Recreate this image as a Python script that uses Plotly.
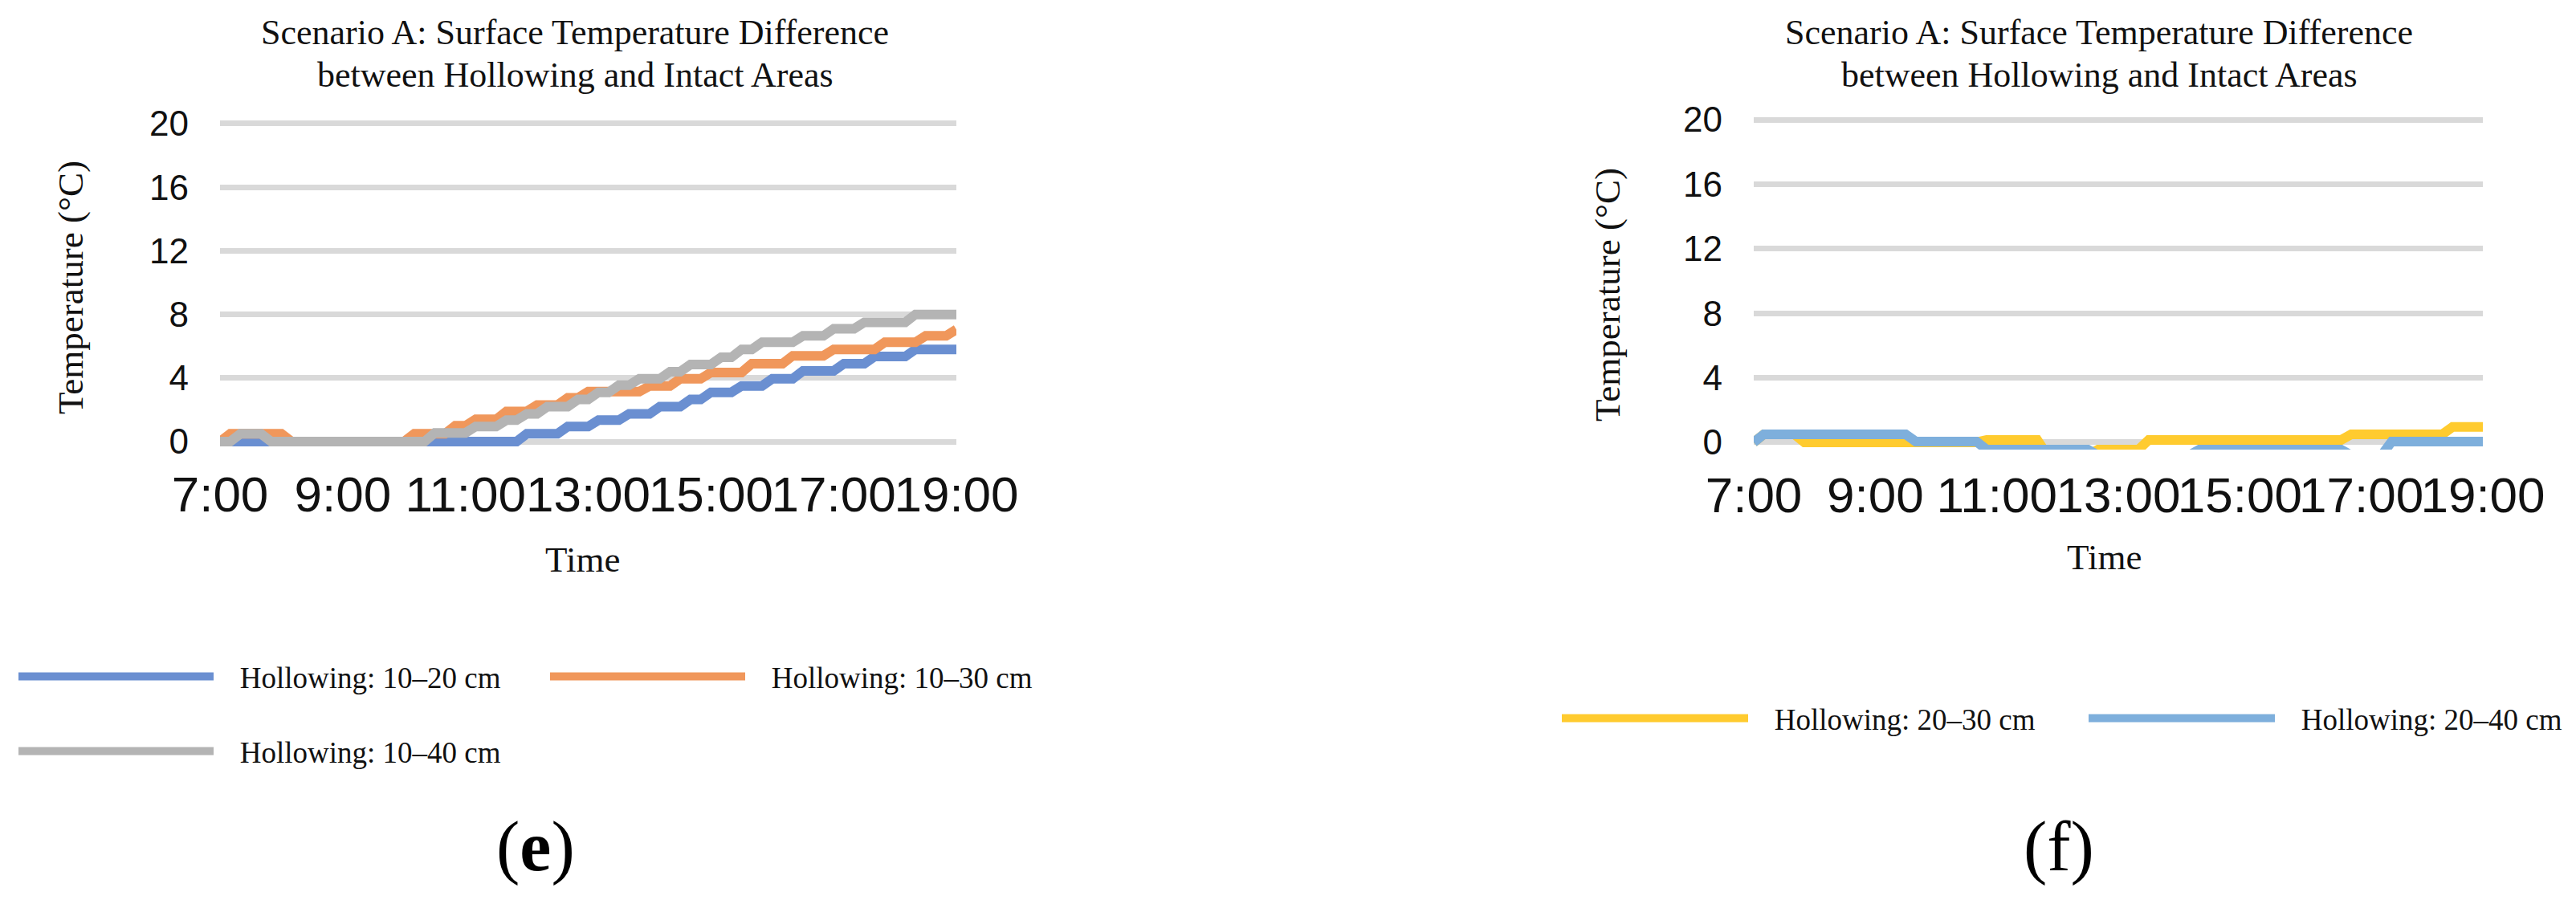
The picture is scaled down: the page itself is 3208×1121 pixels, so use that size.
import plotly.graph_objects as go

W, H = 3208, 1121

# 10-minute readings from 7:00 to 19:00
times = [f"{7 + i // 6}:{(i % 6) * 10:02d}" for i in range(73)]
hours = [int(t.split(":")[0]) + int(t.split(":")[1]) / 60 for t in times]

tick_hours = [7, 9, 11, 13, 15, 17, 19]
tick_text = ["7:00", "9:00", "11:00", "13:00", "15:00", "17:00", "19:00"]
y_ticks = [0, 4, 8, 12, 16, 20]

# (e) hollowing starting at 10 cm
hollow_10_20 = [
    0, 0, 0, 0, 0, 0, 0, 0, 0, 0, 0, 0,
    0, 0, 0, 0, 0, 0, 0, 0, 0, 0, 0, 0,
    0, 0, 0, 0, 0, 0, 0.5, 0.5, 0.5, 0.5, 0.95, 0.95,
    0.95, 1.35, 1.35, 1.35, 1.75, 1.75, 1.75, 2.2, 2.2, 2.2, 2.65, 2.65,
    3.1, 3.1, 3.1, 3.5, 3.5, 3.5, 3.95, 3.95, 3.95, 4.45, 4.45, 4.45,
    4.45, 4.9, 4.9, 4.9, 5.35, 5.35, 5.35, 5.35, 5.8, 5.8, 5.8, 5.8,
    5.8,
]
hollow_10_30 = [
    0, 0.5, 0.5, 0.5, 0.5, 0.5, 0.5, 0, 0, 0, 0, 0,
    0, 0, 0, 0, 0, 0, 0, 0.5, 0.5, 0.5, 0.5, 1.0,
    1.0, 1.4, 1.4, 1.4, 1.9, 1.9, 1.9, 2.3, 2.3, 2.3, 2.75, 2.75,
    3.15, 3.15, 3.15, 3.15, 3.15, 3.15, 3.5, 3.5, 3.5, 3.95, 3.95, 3.95,
    4.35, 4.35, 4.35, 4.35, 4.9, 4.9, 4.9, 4.9, 5.4, 5.4, 5.4, 5.4,
    5.8, 5.8, 5.8, 5.8, 5.8, 6.25, 6.25, 6.25, 6.25, 6.65, 6.65, 6.65,
    7.05,
]
hollow_10_40 = [
    0, 0, 0.5, 0.5, 0.5, 0, 0, 0, 0, 0, 0, 0,
    0, 0, 0, 0, 0, 0, 0, 0, 0, 0.55, 0.55, 0.55,
    0.55, 0.95, 0.95, 0.95, 1.35, 1.35, 1.75, 1.75, 2.2, 2.2, 2.2, 2.65,
    2.65, 3.1, 3.1, 3.55, 3.55, 3.95, 3.95, 3.95, 4.4, 4.4, 4.85, 4.85,
    4.85, 5.3, 5.3, 5.8, 5.8, 6.25, 6.25, 6.25, 6.25, 6.65, 6.65, 6.65,
    7.1, 7.1, 7.1, 7.5, 7.5, 7.5, 7.5, 7.5, 8.0, 8.0, 8.0, 8.0,
    8.0,
]

# (f) hollowing starting at 20 cm
hollow_20_30 = [
    0, 0.5, 0.5, 0.5, 0.5, 0, 0, 0, 0, 0, 0, 0,
    0, 0, 0, 0, 0, 0, 0, 0, 0, 0, 0, 0.15,
    0.15, 0.15, 0.15, 0.15, 0.15, -0.8, -0.8, -0.8, -0.8, -0.8, -0.45, -0.45,
    -0.45, -0.45, -0.45, 0.15, 0.15, 0.15, 0.15, 0.15, 0.15, 0.15, 0.15, 0.15,
    0.15, 0.15, 0.15, 0.15, 0.15, 0.15, 0.15, 0.15, 0.15, 0.15, 0.15, 0.5,
    0.5, 0.5, 0.5, 0.5, 0.5, 0.5, 0.5, 0.5, 0.5, 0.95, 0.95, 0.95,
    0.95,
]
hollow_20_40 = [
    0, 0.5, 0.5, 0.5, 0.5, 0.5, 0.5, 0.5, 0.5, 0.5, 0.5, 0.5,
    0.5, 0.5, 0.5, 0.5, 0.05, 0.05, 0.05, 0.05, 0.05, 0.05, 0.05, -0.45,
    -0.45, -0.45, -0.45, -0.45, -0.45, -0.45, -0.45, -0.45, -0.45, -0.45, -0.8, -0.8,
    -0.8, -0.8, -0.8, -0.8, -0.8, -0.8, -0.8, -0.8, -0.45, -0.45, -0.45, -0.45,
    -0.45, -0.45, -0.45, -0.45, -0.45, -0.45, -0.45, -0.45, -0.45, -0.45, -0.45, -0.8,
    -0.8, -0.8, -0.8, 0.05, 0.05, 0.05, 0.05, 0.05, 0.05, 0.05, 0.05, 0.05,
    0.05,
]

SERIF = "Liberation Serif, Times New Roman, serif"
SANS = "Liberation Sans, Arial, sans-serif"
INK = "#111111"
PAD = "\u00a0\u00a0\u00a0"  # gap between legend line and its label


def px_x(p):
    return p / W


def px_y(p):
    return 1 - p / H


fig = go.Figure()

left_series = [
    ("Hollowing: 10\u201320 cm", hollow_10_20, "#6a8fd1", "legend"),
    ("Hollowing: 10\u201330 cm", hollow_10_30, "#f0975b", "legend"),
    ("Hollowing: 10\u201340 cm", hollow_10_40, "#b4b4b4", "legend3"),
]
for name, vals, color, leg in left_series:
    fig.add_trace(go.Scatter(x=hours, y=vals, name=PAD + name, mode="lines",
                             line=dict(color=color, width=12),
                             xaxis="x", yaxis="y", legend=leg))

right_series = [
    ("Hollowing: 20\u201330 cm", hollow_20_30, "#ffcb2f"),
    ("Hollowing: 20\u201340 cm", hollow_20_40, "#7eafdc"),
]
for name, vals, color in right_series:
    fig.add_trace(go.Scatter(x=hours, y=vals, name=PAD + name, mode="lines",
                             line=dict(color=color, width=12),
                             xaxis="x2", yaxis="y2", legend="legend2"))

xaxis_style = dict(range=[7, 19], tickvals=tick_hours, ticktext=tick_text,
                   showgrid=False, zeroline=False, showline=False, ticks="",
                   tickangle=0, ticklabeloverflow="allow", ticklabelstandoff=15,
                   tickfont=dict(family=SANS, size=62, color=INK))
yaxis_style = dict(range=[-0.45, 20.3], tickvals=y_ticks, showgrid=True,
                   gridcolor="#d9d9d9", gridwidth=7, zeroline=False,
                   showline=False, ticks="", ticklabelstandoff=38,
                   tickfont=dict(family=SANS, size=44, color=INK))

fig.update_layout(
    width=W, height=H,
    margin=dict(l=0, r=0, t=0, b=0, autoexpand=False),
    paper_bgcolor="white", plot_bgcolor="white",
    xaxis=dict(domain=[px_x(266), px_x(1183)], anchor="y", **xaxis_style),
    yaxis=dict(domain=[px_y(551), px_y(140)], anchor="x", **yaxis_style),
    xaxis2=dict(domain=[px_x(2176), px_x(3084)], anchor="y2", **xaxis_style),
    yaxis2=dict(domain=[px_y(552), px_y(135)], anchor="x2", **yaxis_style),
)

legend_font = dict(family=SERIF, size=37, color=INK)
fig.update_layout(
    legend=dict(orientation="h", x=px_x(10), y=px_y(835), xanchor="left",
                yanchor="middle", itemwidth=243, entrywidth=404,
                font=legend_font, bgcolor="rgba(0,0,0,0)", traceorder="normal"),
    legend3=dict(orientation="h", x=px_x(10), y=px_y(928), xanchor="left",
                 yanchor="middle", itemwidth=243, entrywidth=404,
                 font=legend_font, bgcolor="rgba(0,0,0,0)"),
    legend2=dict(orientation="h", x=px_x(1932), y=px_y(887), xanchor="left",
                 yanchor="middle", itemwidth=232, entrywidth=409,
                 font=legend_font, bgcolor="rgba(0,0,0,0)", traceorder="normal"),
)

title_lines = ["Scenario A: Surface Temperature Difference",
               "between Hollowing and Intact Areas"]
panels = [
    dict(cx=708, title_y=[32, 86], time_xy=(717, 689), ytitle_xy=(80, 350), tag="(<b>e</b>)", tag_x=659),
    dict(cx=2606, title_y=[32, 86], time_xy=(2612, 686), ytitle_xy=(1994, 359), tag="(f)", tag_x=2556),
]

annotations = []
for p in panels:
    for line, ty in zip(title_lines, p["title_y"]):
        annotations.append(dict(text=line, x=px_x(p["cx"]), y=px_y(ty), xref="paper", yref="paper",
                                showarrow=False, xanchor="center", yanchor="middle",
                                font=dict(family=SERIF, size=44, color=INK)))
    annotations.append(dict(text="Time", x=px_x(p["time_xy"][0]), y=px_y(p["time_xy"][1]),
                            xref="paper", yref="paper", showarrow=False,
                            xanchor="center", yanchor="middle",
                            font=dict(family=SERIF, size=45, color=INK)))
    annotations.append(dict(text="Temperature (\u00b0C)", x=px_x(p["ytitle_xy"][0]),
                            y=px_y(p["ytitle_xy"][1]), xref="paper", yref="paper",
                            showarrow=False, textangle=-90, xanchor="center", yanchor="middle",
                            font=dict(family=SERIF, size=45, color=INK)))
    annotations.append(dict(text=p["tag"], x=px_x(p["tag_x"]), y=px_y(1046), xref="paper",
                            yref="paper", showarrow=False, xanchor="center", yanchor="middle",
                            font=dict(family=SERIF, size=88, color="#000000")))

fig.update_layout(annotations=annotations)

fig.write_html("out.html")
